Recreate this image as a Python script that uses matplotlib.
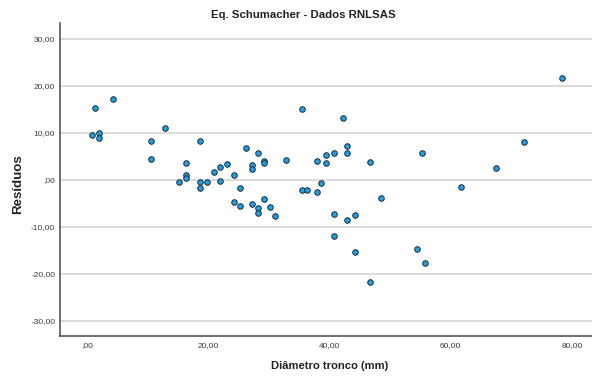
import matplotlib
matplotlib.use("Agg")
import matplotlib.pyplot as plt
from matplotlib.ticker import FuncFormatter, FixedLocator

plt.rcParams['font.family'] = ['Liberation Sans', 'DejaVu Sans']

# Stem diameter (mm) and residuals of the Schumacher equation
diametro = [1.32, 4.29, 0.87, 1.93, 1.93, 10.61, 12.92, 18.69, 10.61, 16.38,
            16.38, 16.38, 15.22, 18.69, 18.69, 19.83, 20.92, 22.02, 23.14, 22.02,
            24.20, 25.19, 26.28, 28.21, 27.27, 27.27, 29.20, 29.20, 32.82, 24.20,
            25.20, 27.27, 28.21, 28.21, 29.20, 30.14, 31.06, 35.46, 42.23, 42.89,
            37.86, 39.37, 39.37, 40.82, 42.89, 46.68, 38.60, 35.46, 36.29, 37.89,
            48.44, 40.82, 44.26, 42.92, 40.82, 44.26, 46.68, 78.40, 72.08, 55.31,
            67.51, 61.69, 54.48, 55.75]
residuos = [15.38, 17.17, 9.51, 10.00, 9.00, 8.36, 11.00, 8.23, 4.53, 3.55,
            1.13, 0.36, -0.36, -0.36, -1.60, -0.49, 1.66, 2.81, 3.40, -0.28,
            1.00, -1.60, 6.74, 5.68, 3.26, 2.40, 3.98, 3.62, 4.32, -4.64,
            -5.53, -5.17, -6.00, -6.98, -3.98, -5.81, -7.66, 15.11, 13.09, 7.28,
            4.11, 5.26, 3.68, 5.68, 5.64, 3.89, -0.57, -2.06, -2.06, -2.55,
            -3.77, -7.17, -7.38, -8.57, -11.98, -15.38, -21.64, 21.77, 8.09, 5.68,
            2.62, -1.55, -14.62, -17.66]

x_ticks = [0, 20, 40, 60, 80]
y_ticks = [-30, -20, -10, 0, 10, 20, 30]

titulo = "Eq. Schumacher - Dados RNLSAS"
rotulo_x = "Diâmetro tronco (mm)"
rotulo_y = "Resíduos"


def fmt_virgula(v, pos=None):
    s = f"{v:.2f}".replace('.', ',')
    if s.startswith("0,"):
        s = s[1:]
    if s.startswith("-0,"):
        s = "-" + s[2:]
    return s


W, H = 592, 378
fig = plt.figure(figsize=(W / 100, H / 100), dpi=100)
left, right, top, bottom = 60, 592, 23, 335.7
ax = fig.add_axes([left / W, 1 - bottom / H, (right - left) / W, (bottom - top) / H])

ax.scatter(diametro, residuos, s=16, color='#239fe0', edgecolors='#1a2a3a',
           linewidths=0.7, zorder=3)

ax.set_xlim(-4.45, 83.3)
ax.set_ylim(-33.13, 33.4)
ax.xaxis.set_major_locator(FixedLocator(x_ticks))
ax.yaxis.set_major_locator(FixedLocator(y_ticks))
ax.xaxis.set_major_formatter(FuncFormatter(fmt_virgula))
ax.yaxis.set_major_formatter(FuncFormatter(fmt_virgula))
ax.tick_params(axis='both', length=0, labelsize=6, labelcolor='#3a3a3a')
ax.tick_params(axis='x', pad=4.5)
ax.tick_params(axis='y', pad=3.5)

ax.grid(axis='y', color='#d9d9d9', linewidth=1.3, zorder=0)
ax.set_axisbelow(True)
for side in ('top', 'right'):
    ax.spines[side].set_visible(False)
for side in ('left', 'bottom'):
    ax.spines[side].set_color('#555555')
    ax.spines[side].set_linewidth(1.2)

fig.text(303 / W, 1 - 15.5 / H, titulo, ha='center', va='center',
         fontsize=8.2, fontweight='bold', color='#222222')
fig.text(330 / W, 1 - 366 / H, rotulo_x, ha='center', va='center',
         fontsize=8.1, fontweight='bold', color='#222222')
fig.text(18 / W, 1 - 184 / H, rotulo_y, ha='center', va='center', rotation=90,
         fontsize=9.6, fontweight='bold', color='#222222')

fig.savefig("out.png", dpi=100)
